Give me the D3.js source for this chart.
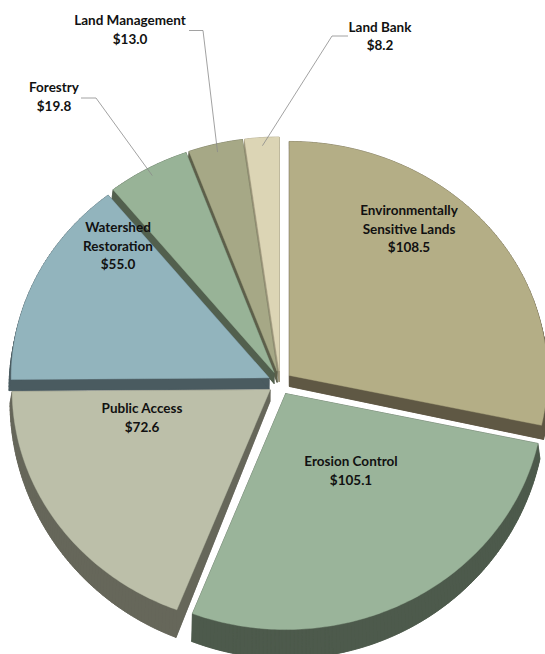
<!DOCTYPE html>
<html>
<head>
<meta charset="utf-8">
<script src="https://cdn.jsdelivr.net/npm/d3@7"></script>
<style>
  body { margin: 0; background: #fff; }
  svg { display: block; }
  .lbl { font-family: Lato, "Open Sans", sans-serif; font-weight: 700; font-size: 13.5px; fill: #111; text-anchor: middle; }
  .leader { fill: none; stroke: #8a8a8a; stroke-width: 0.8; }
</style>
</head>
<body>
<svg id="chart" width="545" height="654"></svg>
<script>
//-----------------------------------------------------//

// Chart data (millions)
const categories = ["Environmentally Sensitive Lands", "Erosion Control", "Public Access",
                    "Watershed Restoration", "Forestry", "Land Management", "Land Bank"];
const values = [108.5, 105.1, 72.6, 55.0, 19.8, 13.0, 8.2];

// How each label is broken into lines
const labelLines = [
  ["Environmentally", "Sensitive Lands"],
  ["Erosion Control"],
  ["Public Access"],
  ["Watershed", "Restoration"],
  ["Forestry"],
  ["Land Management"],
  ["Land Bank"]
];

// Colours: top face and side face
const topColors  = ["#b4ae86", "#9ab49a", "#bcbfa9", "#92b4bd", "#98b397", "#a6a886", "#dcd5b5"];
const sideColors = ["#5f5844", "#4d5a4c", "#66675a", "#4a5b60", "#52604e", "#5d5f4a", "#9a9479"];

//-----------------------------------------------------//

const svg = d3.select("#chart");
const fmt = d3.format("$.1f");

// Pie geometry (a tilted pie drawn by hand)
const cx = 280, cy = 383;
const rx = 258, ryUp = 234, ryDown = 236;
const explode = 12;

// Map a top-face point to where the bottom face sits (front gets thicker)
function bottom(p) {
  return [p[0] + 0.008 * (p[0] - cx), p[1] + 11 + 0.073 * Math.max(0, p[1] - cy)];
}

const pie = d3.pie().sort(null).value(d => d);
const arcs = pie(values);

// point on the top face for angle a and radius fraction r, with slice offset
function proj(a, r, off) {
  let c = -Math.cos(a);
  return [cx + off[0] + rx * r * Math.sin(a),
          cy + off[1] + r * c * (c < 0 ? ryUp : ryDown)];
}

arcs.forEach((d, i) => {
  d.index = i;
  d.mid = (d.startAngle + d.endAngle) / 2;
  d.off = [explode * Math.sin(d.mid), -explode * Math.cos(d.mid)];
  let pts = [proj(0, 0, d.off)];
  let n = Math.max(4, Math.ceil((d.endAngle - d.startAngle) / 0.015));
  for (let k = 0; k <= n; k++) {
    let a = d.startAngle + (d.endAngle - d.startAngle) * k / n;
    pts.push(proj(a, 1, d.off));
  }
  d.top = pts;
  d.bot = pts.map(bottom);
});

// back slices first
const order = arcs.slice().sort((a, b) => Math.cos(b.mid) - Math.cos(a.mid));

const line = d3.line().curve(d3.curveLinearClosed);

const slice = svg.append("g").selectAll("g")
  .data(order)
  .enter().append("g");

// side walls: bottom face + a quad for every edge
slice.each(function(d) {
  let g = d3.select(this);
  let col = sideColors[d.index];
  g.append("path")
    .attr("d", line(d.bot))
    .attr("fill", col).attr("stroke", col).attr("stroke-width", 0.6);
  let m = d.top.length;
  for (let k = 0; k < m; k++) {
    let k2 = (k + 1) % m;
    g.append("path")
      .attr("d", line([d.top[k], d.top[k2], d.bot[k2], d.bot[k]]))
      .attr("fill", col).attr("stroke", col).attr("stroke-width", 0.6);
  }
  g.append("path")
    .attr("d", line(d.top))
    .attr("fill", topColors[d.index])
    .attr("stroke", topColors[d.index]).attr("stroke-width", 0.4);
});

//-----------------------------------------------------//
// Labels

// inside labels: centre x and baseline of first line, line step
const insideLabels = [
  {i: 0, x: 409, y: 215, step: 18.5},
  {i: 1, x: 351, y: 466, step: 19},
  {i: 2, x: 142, y: 413, step: 19},
  {i: 3, x: 118, y: 232, step: 18.5}
];
// outside labels with leader lines
const outsideLabels = [
  {i: 4, x: 54,  y: 92, step: 19, lx: [81, 96],   ly: 98},
  {i: 5, x: 130, y: 25, step: 19, lx: [189, 203], ly: 30.5},
  {i: 6, x: 380, y: 32, step: 18, lx: [348, 332], ly: 36}
];

const labels = svg.append("g");

insideLabels.concat(outsideLabels).forEach(l => {
  let lines = labelLines[l.i].concat([fmt(values[l.i])]);
  let t = labels.append("text").attr("class", "lbl");
  lines.forEach((s, k) => {
    t.append("tspan").attr("x", l.x).attr("y", l.y + k * l.step).text(s);
  });
  if (l.lx) {
    let d = arcs[l.i];
    let end = proj(d.mid, 0.965, d.off);
    labels.append("path")
      .attr("class", "leader")
      .attr("d", d3.line()([[l.lx[0], l.ly], [l.lx[1], l.ly], end]));
  }
});
</script>
</body>
</html>
